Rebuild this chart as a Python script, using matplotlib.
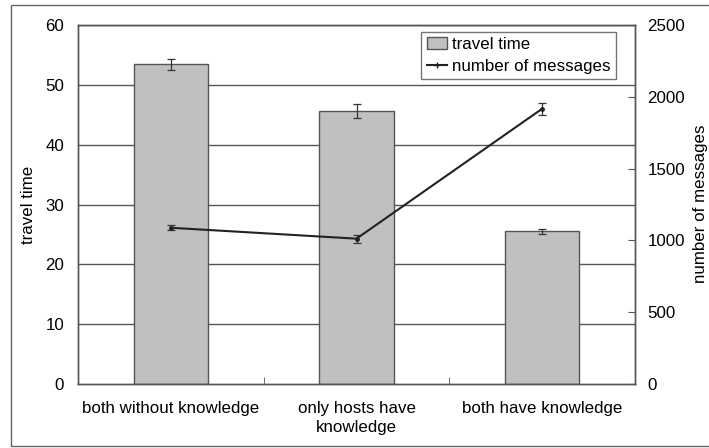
import matplotlib
matplotlib.use("Agg")
import matplotlib.pyplot as plt
from matplotlib.patches import Rectangle
from matplotlib.lines import Line2D
import numpy as np

plt.rcParams['font.family'] = ['Liberation Sans', 'DejaVu Sans']

categories = ["both without knowledge", "only hosts have\nknowledge", "both have knowledge"]
travel_time = [53.4, 45.6, 25.5]
travel_time_err = [1.0, 1.2, 0.4]
messages = [1088, 1012, 1917]
messages_err = [17, 27, 42]

W, H = 709, 448
FS = 12.2
fig = plt.figure(figsize=(W / 100, H / 100), dpi=100)
ax = fig.add_axes([78 / W, 1 - 384 / H, (635 - 78) / W, (384 - 25) / H])
ax2 = ax.twinx()

x = np.arange(len(categories))
grid_c = "#555555"

# Bars (travel time) with error bars
ax.bar(x, travel_time, width=0.4, color="#c0c0c0", edgecolor="#555555",
       linewidth=1.0, zorder=2)
ax.errorbar(x, travel_time, yerr=travel_time_err, fmt="none", ecolor="#333333",
            elinewidth=0.9, capsize=3, capthick=0.9, zorder=3)

ax.set_xlim(-0.5, 2.5)
ax.set_ylim(0, 60)
ax.set_yticks(range(0, 61, 10))
for v in range(10, 61, 10):
    ax.axhline(v, color=grid_c, linewidth=1.0, zorder=1)
ax.set_xticks(x)
ax.set_xticklabels(categories, fontsize=FS, linespacing=1.4)
ax.set_xticks([0.5, 1.5], minor=True)
ax.tick_params(axis="x", which="major", length=0, pad=12)
ax.tick_params(axis="x", which="minor", length=5, direction="in", color=grid_c)
ax.tick_params(axis="y", length=0, labelsize=FS, pad=10)
ax.set_ylabel("travel time", fontsize=FS, labelpad=7)

# Line (number of messages) on the secondary axis
ax2.errorbar(x, messages, yerr=messages_err, color="#222222", linewidth=1.5,
             marker="o", markersize=2.5, ecolor="#333333", elinewidth=0.9,
             capsize=3, capthick=0.9, zorder=4)
ax2.set_ylim(0, 2500)
ax2.set_yticks(range(0, 2501, 500))
ax2.tick_params(axis="y", length=5, direction="in", color=grid_c,
                labelsize=FS, pad=9)
ax2.set_ylabel("number of messages", fontsize=FS)
ax2.yaxis.set_label_coords(693 / W, 1 - 204 / H, transform=fig.transFigure)

for a in (ax, ax2):
    for s in a.spines.values():
        s.set_color(grid_c)
        s.set_linewidth(1.0)

handles = [Rectangle((0, 0), 1, 1, facecolor="#c0c0c0", edgecolor="#555555"),
           Line2D([], [], color="#222222", linewidth=1.5, marker="+", markersize=4)]
leg = ax2.legend(handles, ["travel time", "number of messages"],
                 loc="upper right", bbox_to_anchor=(0.965, 0.98),
                 fontsize=FS, frameon=True, fancybox=False,
                 handlelength=1.2, handletextpad=0.3, borderpad=0.3,
                 labelspacing=0.4, borderaxespad=0)
leg.get_frame().set_edgecolor("#555555")
leg.get_frame().set_linewidth(1.0)

# Outer frame around the figure
fig.patches.append(Rectangle((11 / W, 1 - 446 / H), (W + 5 - 11) / W, (446 - 5) / H,
                             transform=fig.transFigure, fill=False,
                             edgecolor="#666666", linewidth=1.0))

fig.savefig("out.png", dpi=100)
